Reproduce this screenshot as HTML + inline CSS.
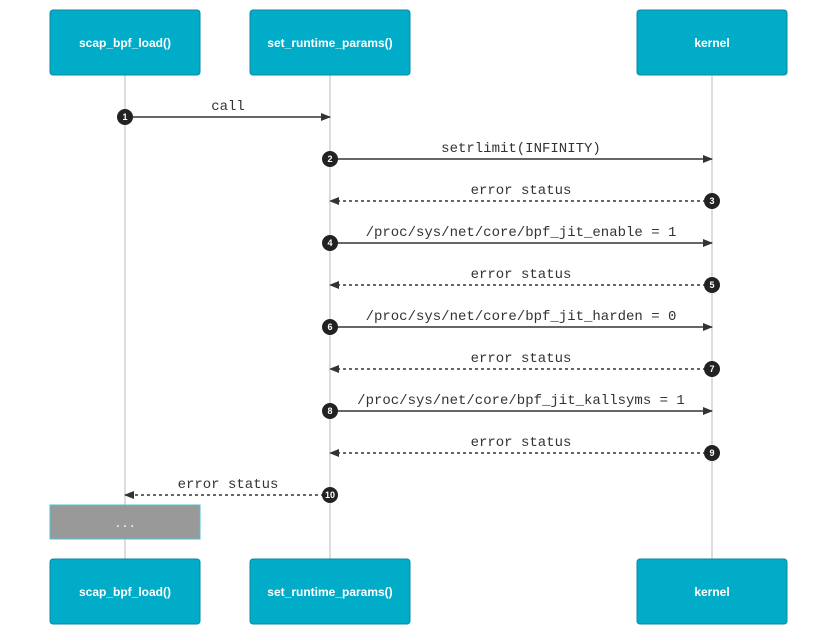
<!DOCTYPE html>
<html><head><meta charset="utf-8"><style>body{margin:0;background:#fff}svg{display:block}</style></head><body>
<svg width="837" height="625" viewBox="0 0 837 625" xmlns="http://www.w3.org/2000/svg" font-family="Liberation Mono, monospace">
<defs>
<marker id="a" markerWidth="10" markerHeight="8" refX="9" refY="4" orient="auto" markerUnits="userSpaceOnUse"><path d="M0,0 L10,4 L0,8 z" fill="#333"/></marker>
</defs>
<g stroke="#ddd" stroke-width="2">
<line x1="125" y1="75" x2="125" y2="559"/><line x1="330" y1="75" x2="330" y2="559"/><line x1="712" y1="75" x2="712" y2="559"/>
</g>
<g fill="#00acc8" stroke="#0a8aa0" stroke-width="1">
<rect x="50" y="10" width="150" height="65" rx="3"/><rect x="250" y="10" width="160" height="65" rx="3"/><rect x="637" y="10" width="150" height="65" rx="3"/>
<rect x="50" y="559" width="150" height="65" rx="3"/><rect x="250" y="559" width="160" height="65" rx="3"/><rect x="637" y="559" width="150" height="65" rx="3"/>
</g>
<g fill="#fff" font-family="Liberation Sans, sans-serif" font-size="12" font-weight="bold" text-anchor="middle">
<text x="125" y="47">scap_bpf_load()</text><text x="330" y="47">set_runtime_params()</text><text x="712" y="47">kernel</text>
<text x="125" y="596">scap_bpf_load()</text><text x="330" y="596">set_runtime_params()</text><text x="712" y="596">kernel</text>
</g>
<rect x="50" y="505" width="150" height="34" fill="#999" stroke="#4cc3d3"/>
<text x="125" y="527" fill="#fff" font-size="12" text-anchor="middle">...</text>
<g stroke="#333" stroke-width="1.5" fill="none">
<line x1="125" y1="117" x2="330" y2="117" marker-end="url(#a)"/>
<line x1="330" y1="159" x2="712" y2="159" marker-end="url(#a)"/>
<line x1="712" y1="201" x2="330" y2="201" stroke-dasharray="3,3" marker-end="url(#a)"/>
<line x1="330" y1="243" x2="712" y2="243" marker-end="url(#a)"/>
<line x1="712" y1="285" x2="330" y2="285" stroke-dasharray="3,3" marker-end="url(#a)"/>
<line x1="330" y1="327" x2="712" y2="327" marker-end="url(#a)"/>
<line x1="712" y1="369" x2="330" y2="369" stroke-dasharray="3,3" marker-end="url(#a)"/>
<line x1="330" y1="411" x2="712" y2="411" marker-end="url(#a)"/>
<line x1="712" y1="453" x2="330" y2="453" stroke-dasharray="3,3" marker-end="url(#a)"/>
<line x1="330" y1="495" x2="125" y2="495" stroke-dasharray="3,3" marker-end="url(#a)"/>
</g>
<g fill="#333" font-size="14" text-anchor="middle">
<text x="228" y="110">call</text>
<text x="521" y="152">setrlimit(INFINITY)</text>
<text x="521" y="194">error status</text>
<text x="521" y="236">/proc/sys/net/core/bpf_jit_enable = 1</text>
<text x="521" y="278">error status</text>
<text x="521" y="320">/proc/sys/net/core/bpf_jit_harden = 0</text>
<text x="521" y="362">error status</text>
<text x="521" y="404">/proc/sys/net/core/bpf_jit_kallsyms = 1</text>
<text x="521" y="446">error status</text>
<text x="228" y="488">error status</text>
</g>
<g fill="#222">
<circle cx="125" cy="117" r="8"/><circle cx="330" cy="159" r="8"/><circle cx="712" cy="201" r="8"/><circle cx="330" cy="243" r="8"/><circle cx="712" cy="285" r="8"/><circle cx="330" cy="327" r="8"/><circle cx="712" cy="369" r="8"/><circle cx="330" cy="411" r="8"/><circle cx="712" cy="453" r="8"/><circle cx="330" cy="495" r="8"/>
</g>
<g fill="#fff" font-family="Liberation Sans, sans-serif" font-size="9" font-weight="bold" text-anchor="middle">
<text x="125" y="120">1</text><text x="330" y="162">2</text><text x="712" y="204">3</text><text x="330" y="246">4</text><text x="712" y="288">5</text><text x="330" y="330">6</text><text x="712" y="372">7</text><text x="330" y="414">8</text><text x="712" y="456">9</text><text x="330" y="498">10</text>
</g>
</svg>
</body></html>
